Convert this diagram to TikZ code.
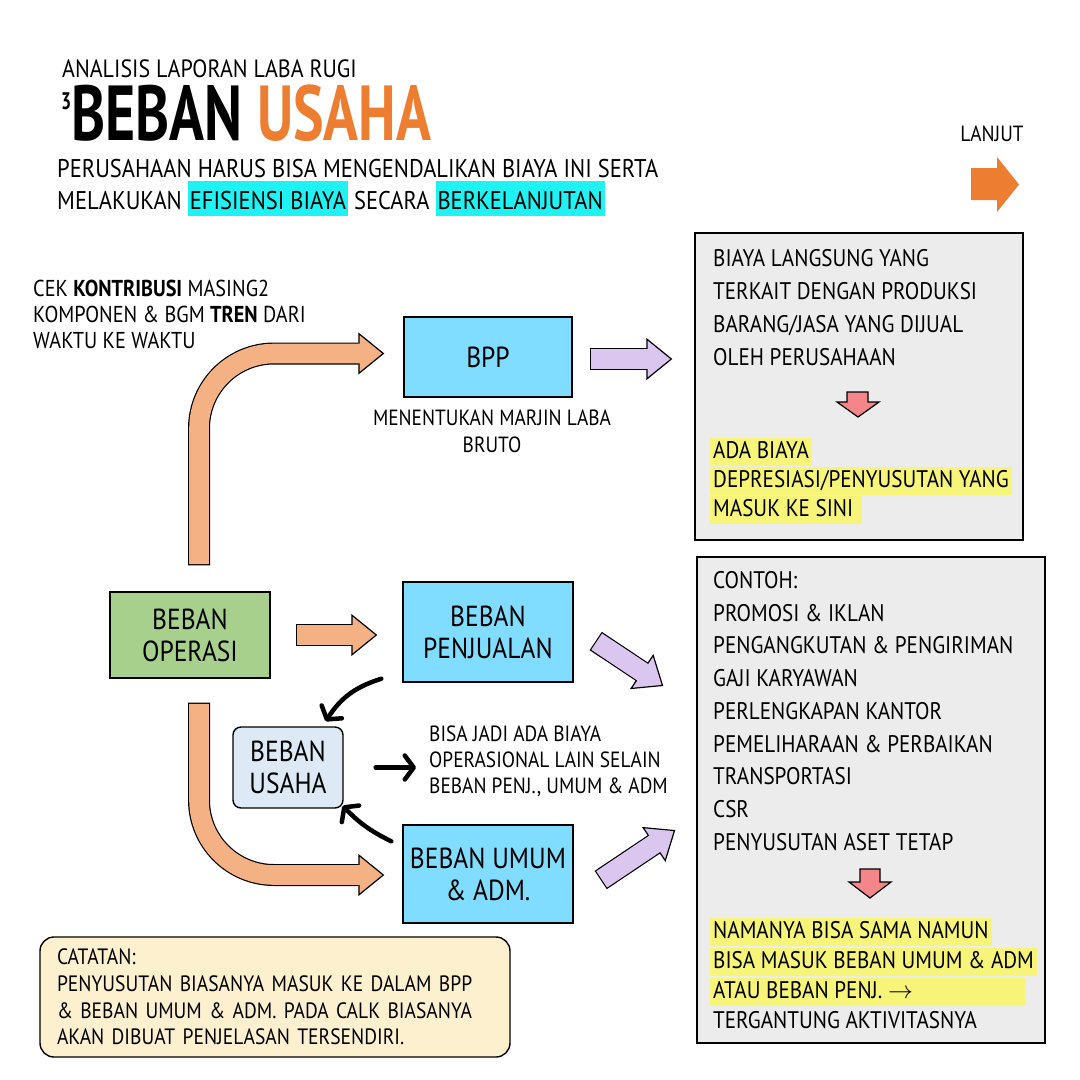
\documentclass[tikz,border=0pt]{standalone}
\usepackage{fontspec}
\setmainfont[FakeStretch=0.88]{PT Sans}
\newfontfamily\judulfont[FakeStretch=0.74]{PT Sans}
\newfontfamily\labelfont[FakeStretch=0.88]{PT Sans}
\definecolor{jingga}{RGB}{237,125,49}
\definecolor{persik}{RGB}{244,177,131}
\definecolor{ungu}{RGB}{218,198,238}
\definecolor{biru}{RGB}{128,221,255}
\definecolor{birumuda}{RGB}{221,234,246}
\definecolor{hijau}{RGB}{168,208,141}
\definecolor{abu}{RGB}{236,236,236}
\definecolor{krem}{RGB}{253,240,207}
\definecolor{merah}{RGB}{244,134,138}
\definecolor{stabilo}{RGB}{246,245,122}
\definecolor{sian}{RGB}{30,242,242}
\usetikzlibrary{positioning}
\usetikzlibrary{arrows.meta}

\newcommand{\hly}[1]{{\setlength{\fboxsep}{3pt}\colorbox{stabilo}{\rule[-4.5pt]{0pt}{21pt}#1}}}
\newcommand{\hlc}[1]{{\setlength{\fboxsep}{2pt}\colorbox{sian}{\rule[-5pt]{0pt}{31pt}#1}}}

\tikzset{
  kotak/.style={draw=black, line width=1.4pt, align=center, inner sep=2pt, font=\labelfont\fontsize{29}{32}\selectfont},
  teks/.style={inner sep=0pt, align=left, anchor=north west},
  fat/.style={draw=#1, line width=19.6pt, shorten <=1.2pt, shorten >=24pt,
    preaction={draw=black, line width=22pt, shorten <=0pt, shorten >=0pt,
      -{Triangle[length=26pt, width=42pt, fill=#1, line width=1.2pt 0 0]}}},
  panah/.style={line width=4.5pt, line cap=round, -{Straight Barb[length=9pt, width=24pt, round]}},
}

\begin{document}
\begin{tikzpicture}[x=1pt, y=-1pt]
\useasboundingbox (0,0) rectangle (1080,1080);

% judul
\node (analisis) [anchor=base west, inner sep=0pt, font=\fontsize{25}{28}\selectfont] at (62,77) {ANALISIS LAPORAN LABA RUGI};
\node (judul) [anchor=base west, inner sep=0pt, font=\judulfont\bfseries\fontsize{78}{78}\selectfont] at (61,140) {{\fontsize{24}{24}\selectfont\raisebox{31pt}{3}}BEBAN \textcolor{jingga}{USAHA}};
\node (sub1) [anchor=base west, inner sep=0pt, font=\fontsize{25.6}{30}\selectfont] at (57,177) {PERUSAHAAN HARUS BISA MENGENDALIKAN BIAYA INI SERTA};
\node (sub2) [anchor=base west, inner sep=0pt, font=\fontsize{25.6}{30}\selectfont] at (57,209) {MELAKUKAN \hlc{EFISIENSI BIAYA} SECARA \hlc{BERKELANJUTAN}};
\node (lanjut) [inner sep=0pt, font=\fontsize{22}{24}\selectfont] at (992,134) {LANJUT};
\fill[jingga] (971,168) -- (997,168) -- (997,157) -- (1019,184.5) -- (997,212) -- (997,200) -- (971,200) -- cycle;

% kotak keterangan kanan
\node (bppinfo) [draw=black, line width=1.4pt, fill=abu, minimum width=328pt, minimum height=307pt] at (859,386.5) {};
\node (contoh) [draw=black, line width=1.4pt, fill=abu, minimum width=348pt, minimum height=486pt] at (871,800) {};
\node (bppteks) [teks, font=\fontsize{24}{33}\selectfont] at (713,249) {BIAYA LANGSUNG YANG\\TERKAIT DENGAN PRODUKSI\\BARANG/JASA YANG DIJUAL\\OLEH PERUSAHAAN};
\filldraw[fill=merah, draw=black, line width=1.2pt] (847,392) -- (868,392) -- (868,402) -- (879,402) -- (858,417) -- (837,402) -- (847,402) -- cycle;
\node (deprteks) [teks, font=\fontsize{24}{29}\selectfont] at (710,438) {\hly{ADA BIAYA}\\\hly{DEPRESIASI/PENYUSUTAN YANG}\\\hly{MASUK KE SINI\hspace*{6pt}}};
\node (contohteks) [teks, font=\fontsize{24}{32.75}\selectfont] at (713,571) {CONTOH:\\PROMOSI \& IKLAN\\PENGANGKUTAN \& PENGIRIMAN\\GAJI KARYAWAN\\PERLENGKAPAN KANTOR\\PEMELIHARAAN \& PERBAIKAN\\TRANSPORTASI\\CSR\\PENYUSUTAN ASET TETAP};
\filldraw[fill=merah, draw=black, line width=1.2pt] (860,869) -- (880,869) -- (880,882) -- (891,882) -- (870,898) -- (849,882) -- (860,882) -- cycle;
\node (namateks) [teks, font=\fontsize{24}{30}\selectfont] at (710,918) {\hly{NAMANYA BISA SAMA NAMUN}\\\hly{BISA MASUK BEBAN UMUM \& ADM}\\\hly{ATAU BEBAN PENJ. $\rightarrow$\hspace*{110pt}}\\\hspace*{3pt}TERGANTUNG AKTIVITASNYA};

% kotak utama
\node (bpp) [kotak, fill=biru, minimum width=168pt, minimum height=80pt] at (488,357) {BPP};
\node (marjin) [align=center, inner sep=0pt, font=\fontsize{22}{27}\selectfont] at (492,431) {MENENTUKAN MARJIN LABA\\BRUTO};
\node (opr) [kotak, fill=hijau, minimum width=160pt, minimum height=86pt] at (190,635) {BEBAN\\OPERASI};
\node (penj) [kotak, fill=biru, minimum width=170pt, minimum height=100pt] at (488,632) {BEBAN\\PENJUALAN};
\node (usaha) [kotak, fill=birumuda, rounded corners=8pt, minimum width=110pt, minimum height=81pt] at (288,767.5) {BEBAN\\USAHA};
\node (umum) [kotak, fill=biru, minimum width=170pt, minimum height=98pt] at (488,874) {BEBAN UMUM\\\& ADM.};
\node (cek) [teks, font=\fontsize{23}{26}\selectfont] at (33,280) {CEK \textbf{KONTRIBUSI} MASING2\\KOMPONEN \& BGM \textbf{TREN} DARI\\WAKTU KE WAKTU};
\node (lain) [teks, font=\fontsize{22}{26}\selectfont] at (429,726) {BISA JADI ADA BIAYA\\OPERASIONAL LAIN SELAIN\\BEBAN PENJ., UMUM \& ADM};
\node (catatan) [draw=black, line width=1.4pt, fill=krem, rounded corners=14pt, minimum width=470pt, minimum height=120pt, text width=436pt, inner sep=0pt, align=left, font=\fontsize{22.2}{26.7}\selectfont] at (275,997) {CATATAN:\\PENYUSUTAN BIASANYA MASUK KE DALAM BPP\\\& BEBAN UMUM \& ADM. PADA CALK BIASANYA\\AKAN DIBUAT PENJELASAN TERSENDIRI.};

% panah tebal
\draw [fat=persik, rounded corners=75pt] ([xshift=9pt,yshift=26pt]opr.north) |- ([xshift=-19pt,yshift=3.5pt]bpp.west);
\draw [fat=persik, rounded corners=75pt] ([xshift=9pt,yshift=-24pt]opr.south) |- ([xshift=-18pt,yshift=-1pt]umum.west);
\draw [fat=persik] ([xshift=25pt]opr.east) -- ([xshift=-25pt]opr.east -| penj.west);
\draw [fat=ungu] ([xshift=17pt,yshift=-2pt]bpp.east) -- ([xshift=-22pt,yshift=-2pt]bpp.east -| bppinfo.west);
\draw [fat=ungu] ([shift={(22,9)}]penj.east) -- ([shift={(-33,-114)}]contoh.west);
\draw [fat=ungu] ([shift={(27,6)}]umum.east) -- ([shift={(-21,30)}]contoh.west);

% panah hitam
\draw [panah] ([shift={(-21,-4)}]penj.south west) to[bend right=20] ([shift={(-18,-5)}]usaha.north east);
\draw [panah] ([xshift=32pt]usaha.east) -- ([xshift=-13pt]usaha.east -| lain.west);
\draw [panah] ([shift={(-11,17)}]umum.north west) to[bend left=10] ([shift={(-1,-3)}]usaha.south east);
\end{tikzpicture}
\end{document}
